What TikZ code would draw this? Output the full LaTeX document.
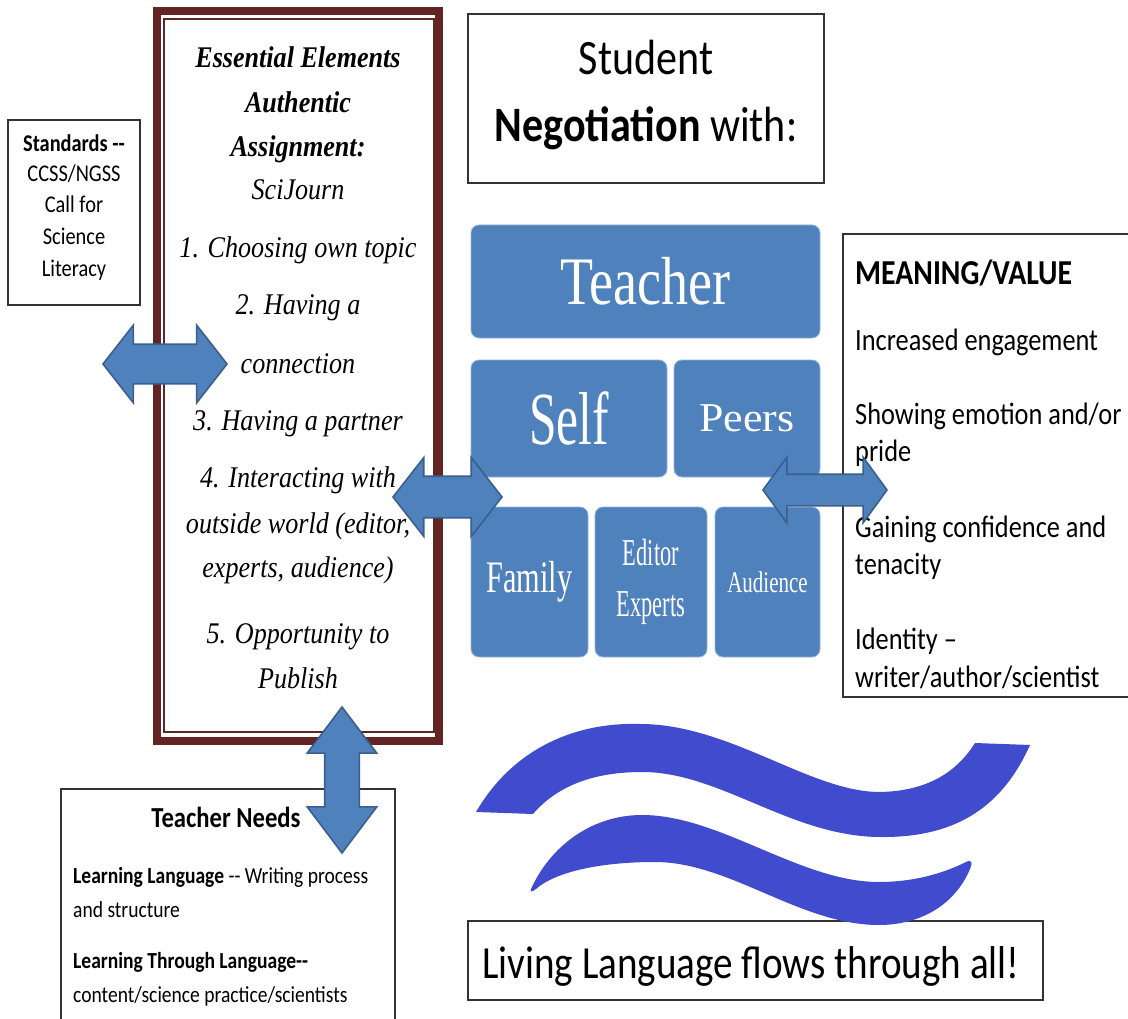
\documentclass[tikz,border=0pt]{standalone}
\usepackage{fontspec}
\usepackage{graphicx}
\usetikzlibrary{shapes.arrows}
\newfontfamily\calfont[FakeStretch=0.85]{Carlito}
\newfontfamily\elemfont[FakeStretch=0.87]{Liberation Serif}
\newfontfamily\smartfont{Liberation Serif}
\newcommand{\setfs}[1]{\fontsize{#1}{#1}\selectfont}
\definecolor{boxblue}{HTML}{4F81BD}
\definecolor{arrowedge}{HTML}{3A5F8C}
\definecolor{framered}{HTML}{632523}
\definecolor{wavecol}{HTML}{414BCD}
\definecolor{boxline}{HTML}{333333}
\begin{document}
\begin{tikzpicture}[x=1pt, y=-1pt,
  plainbox/.style={draw=boxline, line width=1.3pt, fill=white, inner sep=0pt},
  bluebox/.style={rounded corners=8pt, fill=boxblue, draw=boxblue!60!white, line width=0.8pt, text=white, inner sep=0pt, align=center},
  dblarrow/.style={double arrow, draw=arrowedge, fill=boxblue, line width=1.6pt, inner xsep=0pt},
  std/.style={font=\calfont\setfs{24}, anchor=base, inner sep=0pt},
  elem/.style={font=\elemfont\itshape\setfs{30}, anchor=base, inner sep=0pt},
  meaning/.style={font=\calfont\setfs{31}, anchor=base west, inner sep=0pt},
  needs/.style={font=\calfont\setfs{23}, anchor=base west, inner sep=0pt}]
\useasboundingbox (0,0) rectangle (1128,1019);

% standards box
\node[plainbox, minimum width=132, minimum height=185] (standards) at (74,212.5) {};
\node[std] (std1) at (74,152) {\textbf{Standards --}};
\node[std] (std2) at (74,182) {CCSS/NGSS};
\node[std] (std3) at (74,213) {Call for};
\node[std] (std4) at (74,245) {Science};
\node[std] (std5) at (74,277) {Literacy};

% essential elements frame
\node[draw=framered, line width=8pt, minimum width=282, minimum height=730, inner sep=0pt] (frame) at (298,376) {};
\node[draw=framered, line width=2pt, minimum width=270.5, minimum height=713, inner sep=0pt] (frameinner) at (298.75,375.5) {};
\node[elem] (el1) at (298,68) {\textbf{Essential Elements}};
\node[elem] (el2) at (298,113) {\textbf{Authentic}};
\node[elem] (el3) at (298,157) {\textbf{Assignment:}};
\node[elem] (el4) at (298,200) {SciJourn};
\node[elem] (el5) at (298,258) {1. Choosing own topic};
\node[elem] (el6) at (298,315) {2. Having a};
\node[elem] (el7) at (298,373) {connection};
\node[elem] (el8) at (298,430) {3. Having a partner};
\node[elem] (el9) at (298,487) {4. Interacting with};
\node[elem] (el10) at (298,533) {outside world (editor,};
\node[elem] (el11) at (298,577) {experts, audience)};
\node[elem] (el12) at (298,643) {5. Opportunity to};
\node[elem] (el13) at (298,688) {Publish};

% student negotiation
\node[plainbox, minimum width=356, minimum height=169] (student) at (646,98.5) {};
\node[font=\calfont\setfs{49.5}, anchor=base, inner sep=0pt] (stu1) at (646,75) {Student};
\node[font=\calfont\setfs{49.5}, anchor=base, inner sep=0pt] (stu2) at (646,142) {\textbf{Negotiation} with:};

% blue boxes
\node[bluebox, minimum width=349, minimum height=113, font=\smartfont\setfs{68}] (teacher) at (645.5,281.5) {\scalebox{0.795}[1]{Teacher}};
\node[bluebox, minimum width=196, minimum height=117, font=\smartfont\setfs{75}] (self) at (569,418.5) {\scalebox{0.66}[1]{Self}};
\node[bluebox, minimum width=146, minimum height=117, font=\smartfont\setfs{41}] (peers) at (747,418.5) {\scalebox{1.07}[1]{Peers}};
\node[bluebox, minimum width=117, minimum height=150, font=\smartfont\setfs{45}] (family) at (529.5,582) {\scalebox{0.675}[1]{Family}};
\node[bluebox, minimum width=112, minimum height=150, font=\smartfont\fontsize{38}{51}\selectfont] (editor) at (651,582) {\scalebox{0.59}[1]{Editor}\\\scalebox{0.59}[1]{Experts}};
\node[bluebox, minimum width=105, minimum height=150, font=\smartfont\setfs{30}] (audience) at (767.5,582) {\scalebox{0.70}[1]{Audience}};

% meaning/value
\node[plainbox, minimum width=297, minimum height=463] (meaningbox) at (991.5,465.5) {};
\node[font=\calfont\setfs{35}, anchor=base west, inner sep=0pt] (mv) at (855,285) {\textbf{MEANING/VALUE}};
\node[meaning] (mv1) at (855,350) {Increased engagement};
\node[meaning] (mv2) at (855,424) {Showing emotion and/or};
\node[meaning] (mv3) at (855,461) {pride};
\node[meaning] (mv4) at (855,537) {Gaining confidence and};
\node[meaning] (mv5) at (855,574) {tenacity};
\node[meaning] (mv6) at (855,649) {Identity –};
\node[meaning] (mv7) at (855,687) {writer/author/scientist};

% teacher needs
\node[plainbox, minimum width=334, minimum height=241] (needsbox) at (228,909.5) {};
\node[font=\calfont\setfs{29}, anchor=base, inner sep=0pt] (needstitle) at (226,827) {\textbf{Teacher Needs}};
\node[needs] (nd1) at (73,883) {\textbf{Learning Language} -- Writing process};
\node[needs] (nd2) at (73,917) {and structure};
\node[needs] (nd3) at (73,968) {\textbf{Learning Through Language--}};
\node[needs] (nd4) at (73,1002) {content/science practice/scientists};

% living language
\node[plainbox, minimum width=575, minimum height=79] (living) at (755.5,960.5) {};
\node[font=\calfont\setfs{46}, anchor=base, inner sep=0pt] (livingtxt) at (751,978) {Living Language flows through all!};

% waves
\fill[wavecol] (476,812) .. controls (515,745) and (580,722) .. (640,724)
  .. controls (730,724) and (810,792) .. (880,792)
  .. controls (930,791) and (958,770) .. (975,743)
  -- (1030,745)
  .. controls (1000,812) and (950,838) .. (879,837)
  .. controls (790,836) and (720,772) .. (642,772)
  .. controls (595,772) and (558,785) .. (533,814) -- cycle;
\fill[wavecol] (532,887) .. controls (550,848) and (590,815) .. (642,815)
  .. controls (720,815) and (800,882) .. (879,882)
  .. controls (920,882) and (950,870) .. (966,862)
  .. controls (972,859) and (973,863) .. (970,869)
  .. controls (955,905) and (920,925) .. (879,925)
  .. controls (800,925) and (730,862) .. (655,862)
  .. controls (600,862) and (555,872) .. (536,889)
  .. controls (531,893) and (529,892) .. (532,887) -- cycle;

% block arrows
\node[dblarrow, inner ysep=19, minimum height=124, minimum width=76, double arrow head extend=19, double arrow tip angle=104] (arrstd) at (165,364) {};
\node[dblarrow, inner ysep=20, minimum height=109, minimum width=77, double arrow head extend=18.5, double arrow tip angle=104] (arrneg) at (447.5,497) {};
\node[dblarrow, inner ysep=15, minimum height=124, minimum width=64, double arrow head extend=17, double arrow tip angle=108] (arrval) at (825,490) {};
\node[dblarrow, inner ysep=16.5, rotate=90, minimum height=146, minimum width=68, double arrow head extend=17.5, double arrow tip angle=74] (arrneed) at (342,780) {};
\end{tikzpicture}
\end{document}
